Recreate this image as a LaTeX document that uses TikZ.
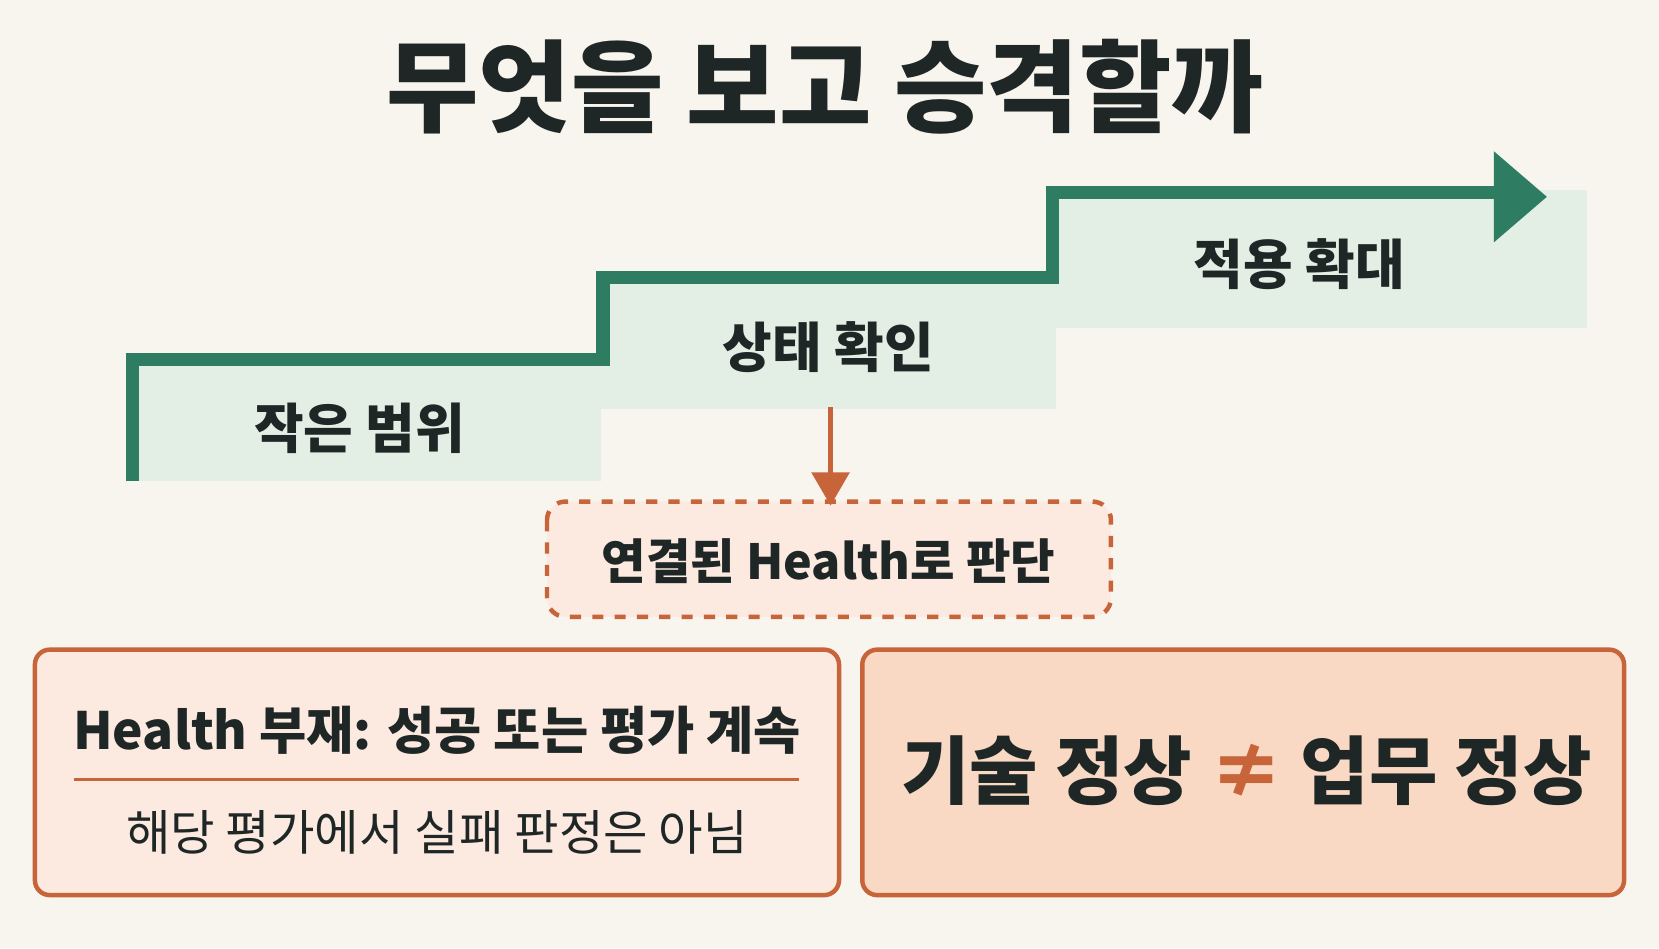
\documentclass[tikz,border=0pt]{standalone}
\usepackage{fontspec}
\setmainfont{Noto Sans CJK KR}
\newfontfamily\kr{Noto Sans CJK KR}
\usetikzlibrary{positioning, arrows.meta}
\definecolor{bgcream}{HTML}{F8F5EF}
\definecolor{stepgreen}{HTML}{2E7D62}
\definecolor{stepfill}{HTML}{E3EEE4}
\definecolor{rust}{HTML}{C8643A}
\definecolor{peach}{HTML}{FCE9DF}
\definecolor{peachdark}{HTML}{FAD9C4}
\definecolor{ink}{HTML}{1E2626}
\begin{document}
\begin{tikzpicture}[x=0.01cm, y=-0.01cm,
steplabel/.style={font=\kr\bfseries\fontsize{14.5}{18}\selectfont, text=ink},
stepbox/.style={fill=stepfill, draw=none},
notebox/.style={rounded corners=4pt, draw=rust, line width=1.2pt},
>={Triangle[length=9pt,width=10pt]}
]
\fill[bgcream] (0,0) rectangle (1568,896);
\useasboundingbox (0,0) rectangle (1568,896);

\node[font=\kr\bfseries\fontsize{27}{32}\selectfont, text=ink] (title) at (780,82)
    {무엇을 보고 승격할까};

% steps
\fill[stepbox] (120,340) rectangle (568,455);
\fill[stepbox] (568,262) rectangle (998,387);
\fill[stepbox] (998,180) rectangle (1500,310);
\draw[stepgreen, line width=3.6pt] (125,455) -- (125,340) -- (570,340) -- (570,262)
    -- (995,262) -- (995,182) -- (1420,182);
\fill[stepgreen] (1412,143) -- (1462,186) -- (1412,229) -- cycle;

\node[steplabel] (small) at (340,405) {작은 범위};
\node[steplabel] (check) at (783,328) {상태 확인};
\node[steplabel] (widen) at (1228,250) {적용 확대};

% judgement
\draw[draw=rust, dashed, line width=1.2pt, rounded corners=5pt, fill=peach]
    (517,474) rectangle (1050,583);
\node[font=\kr\bfseries\fontsize{13}{16}\selectfont, text=ink] (health) at (783,530)
    {연결된 Health로 판단};
\coordinate (healthtop) at (785,478);
\draw[->, rust, line width=1.5pt] (785,385) -- (healthtop);

% bottom boxes
\draw[notebox, fill=peach] (33,614) rectangle (793,846);
\node[font=\kr\bfseries\fontsize{13.8}{17}\selectfont, text=ink] (absent) at (413,690)
    {Health 부재: 성공 또는 평가 계속};
\draw[rust, line width=0.8pt] (70,737) -- (755,737);
\node[font=\kr\fontsize{13}{17}\selectfont, text=ink] (notfail) at (413,787)
    {해당 평가에서 실패 판정은 아님};

\draw[notebox, fill=peachdark] (815,614) rectangle (1535,846);
\node[font=\kr\bfseries\fontsize{20}{26}\selectfont, text=ink] (motto) at (1178,728)
    {기술 정상 \textcolor{rust}{≠} 업무 정상};
\end{tikzpicture}
\end{document}
